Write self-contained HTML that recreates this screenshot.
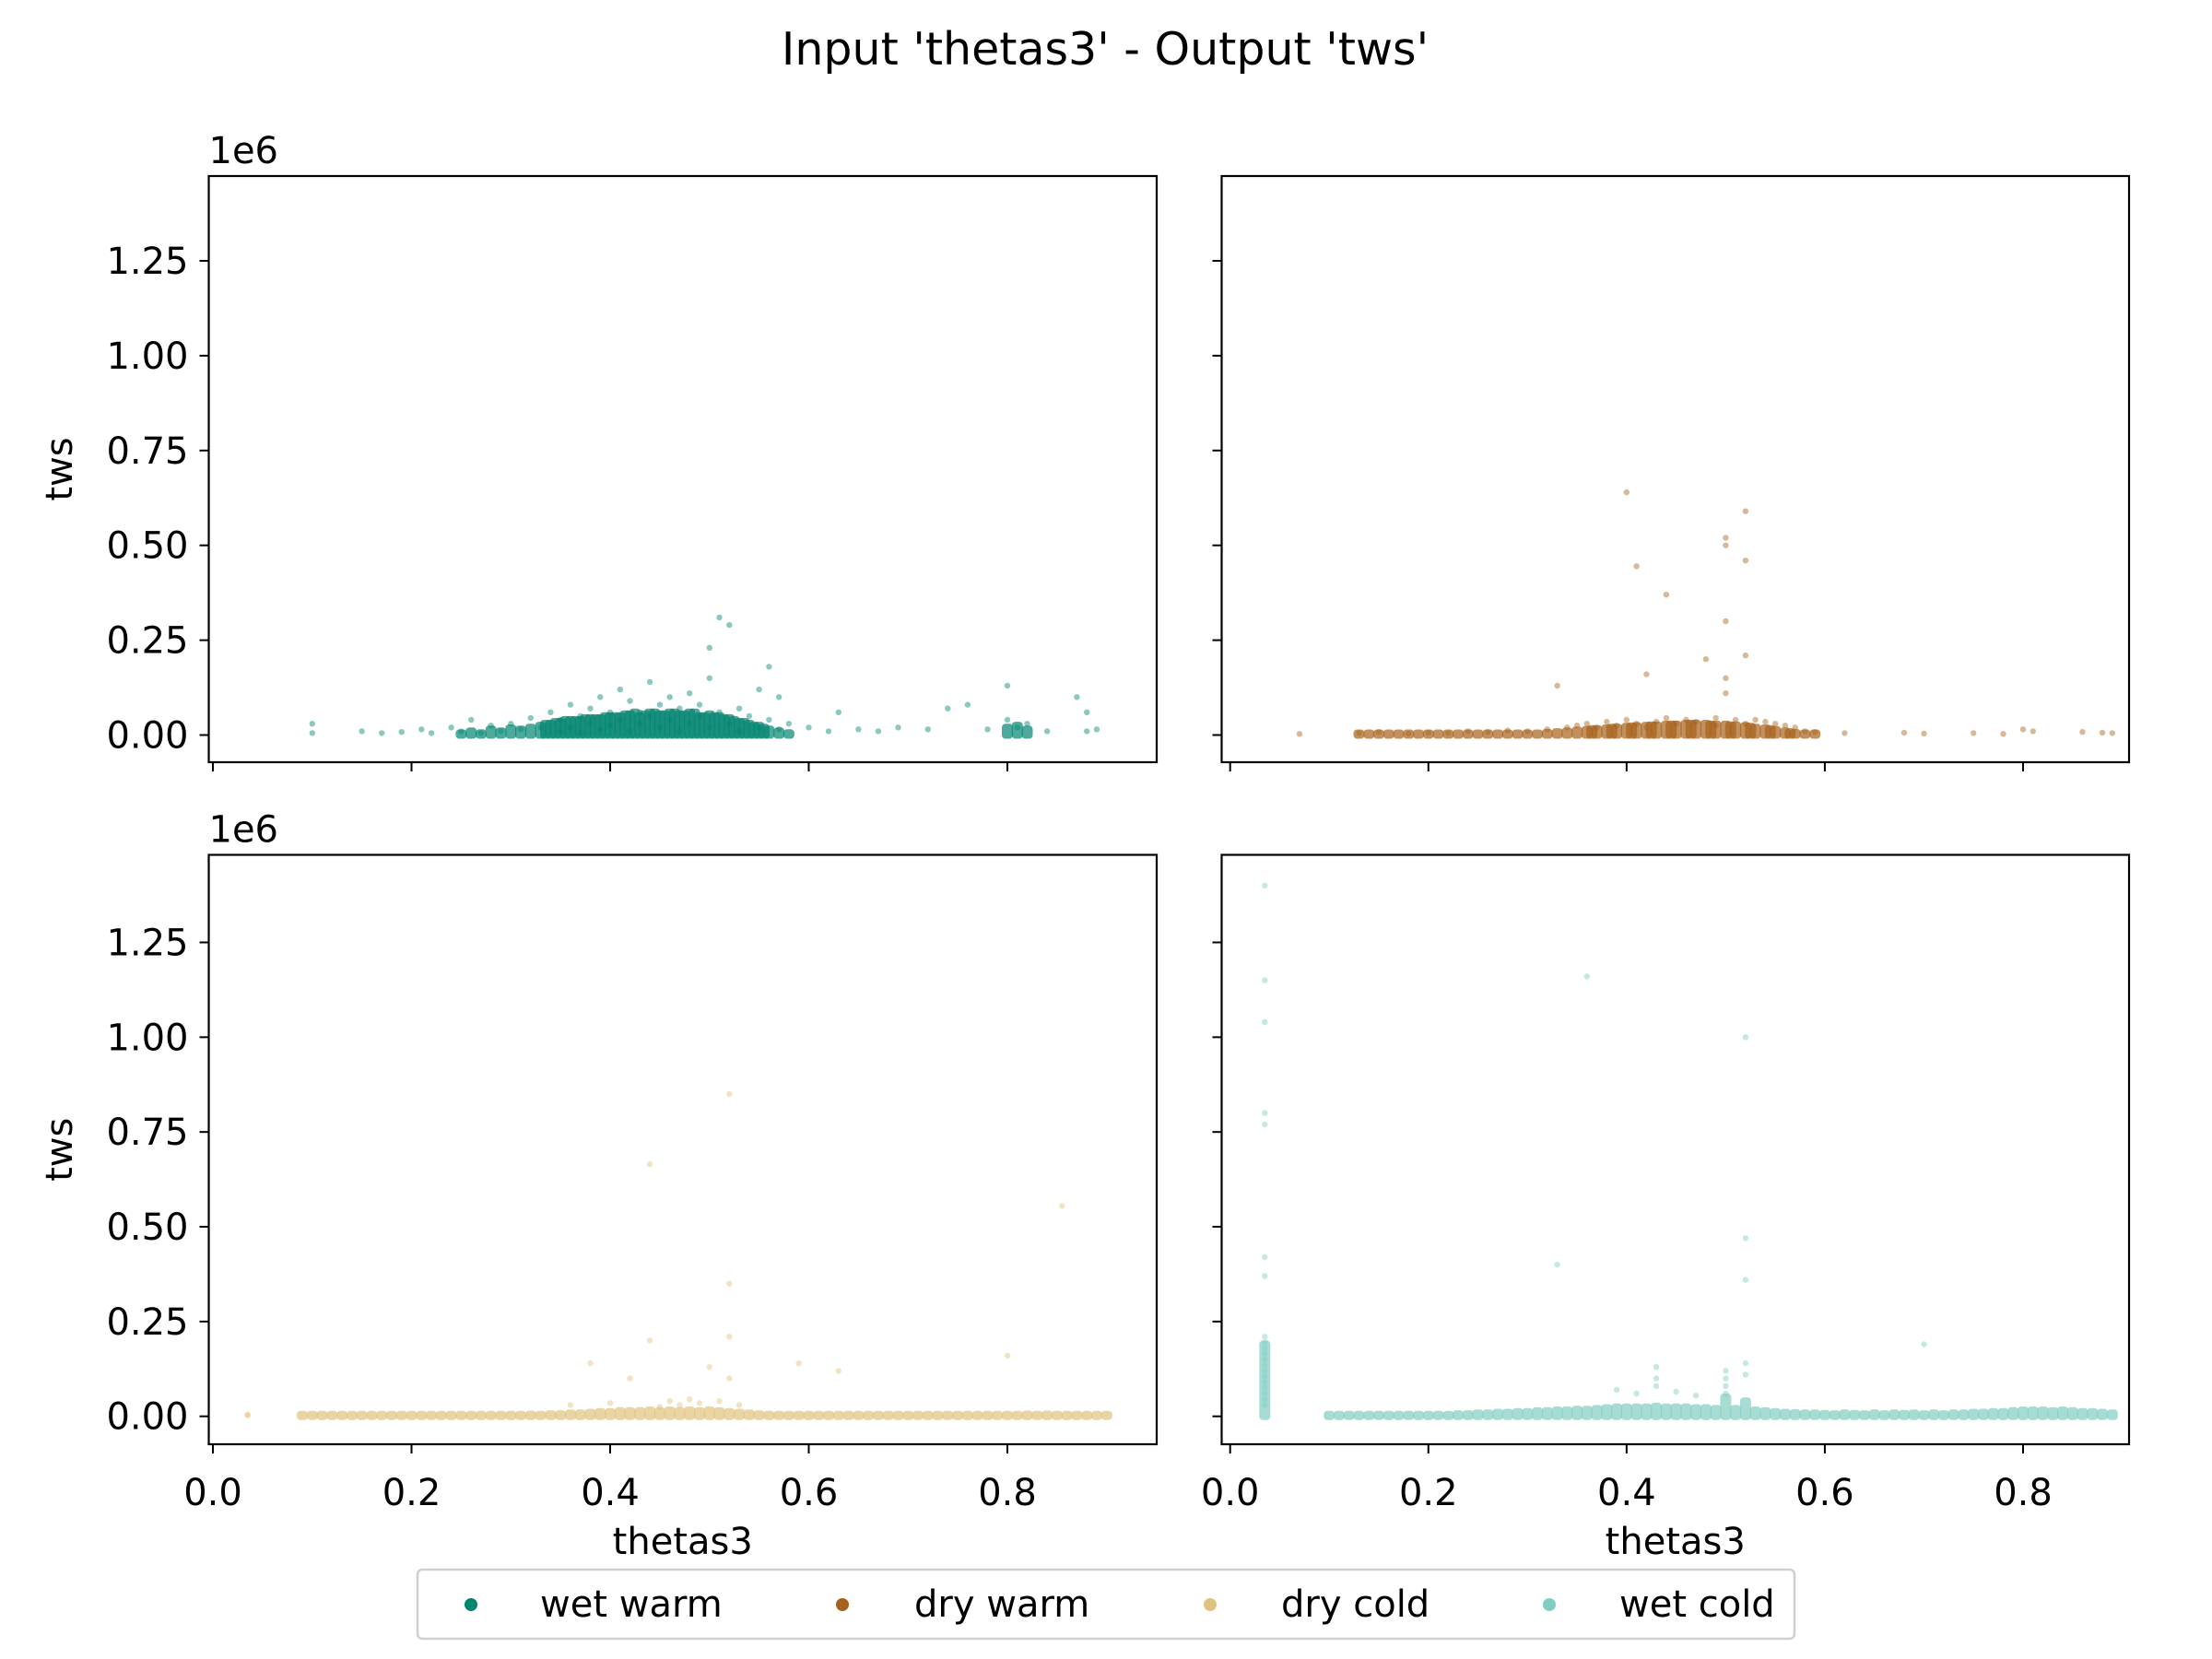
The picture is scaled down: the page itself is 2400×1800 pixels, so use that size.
<!DOCTYPE html>
<html><head><meta charset="utf-8"><style>
html,body{margin:0;padding:0;background:#fff;}
svg{display:block;font-family:"DejaVu Sans","Liberation Sans",sans-serif;}
</style></head><body>
<svg id="fig" width="2400" height="1800" viewBox="0 0 2400 1800" xmlns="http://www.w3.org/2000/svg">
<rect width="2400" height="1800" fill="#fff"/>
<text x="1199" y="70" font-size="49" text-anchor="middle">Input 'thetas3' - Output 'tws'</text>
<g id="panels"></g>
<g>
<rect x="453" y="1703" width="1494" height="75" rx="5" fill="#fff" stroke="#d0d0d0" stroke-width="2.5"/>
<circle cx="511" cy="1741" r="7" fill="#018571"/>
<text x="586" y="1754" font-size="40">wet warm</text>
<circle cx="914" cy="1741" r="7" fill="#a6611a"/>
<text x="992" y="1754" font-size="40">dry warm</text>
<circle cx="1313" cy="1741" r="7" fill="#dfc27d"/>
<text x="1390" y="1754" font-size="40">dry cold</text>
<circle cx="1681" cy="1741" r="7" fill="#80cdc1"/>
<text x="1757" y="1754" font-size="40">wet cold</text>
</g>
</svg>
<script>
// tick values
const xTicks = [0.0, 0.2, 0.4, 0.6, 0.8];
const xTickLabels = ["0.0", "0.2", "0.4", "0.6", "0.8"];
const yTicks = [0, 0.25, 0.5, 0.75, 1.0, 1.25];
const yTickLabels = ["0.00", "0.25", "0.50", "0.75", "1.00", "1.25"];
// series values (x = thetas3, y = tws in thousands)
const wetWarmX = [0.10,0.10,0.15,0.17,0.19,0.21,0.22,0.24,0.25,0.26,0.27,0.28,0.29,0.30,0.31,0.32,0.33,0.34,0.35,0.35,0.36,0.36,0.37,0.37,0.38,0.38,0.39,0.39,0.40,0.40,0.41,0.41,0.42,0.42,0.43,0.43,0.44,0.44,0.45,0.45,0.46,0.46,0.47,0.47,0.48,0.48,0.49,0.49,0.50,0.50,0.50,0.51,0.51,0.52,0.52,0.53,0.53,0.54,0.55,0.55,0.56,0.56,0.57,0.57,0.58,0.60,0.62,0.63,0.65,0.67,0.69,0.72,0.74,0.76,0.78,0.80,0.80,0.81,0.82,0.84,0.87,0.88,0.88,0.89];
const wetWarmY = [5,30,10,5,8,15,5,20,10,40,5,25,10,30,15,45,20,60,10,40,80,20,50,5,70,30,100,15,60,25,120,40,90,10,60,30,140,50,80,20,100,40,70,10,110,30,80,50,150,230,20,310,60,290,30,70,10,50,120,20,180,40,100,15,30,20,10,60,15,10,20,15,70,80,15,130,40,20,30,10,100,60,10,15];
const wetWarmBandX = [0.25,0.26,0.27,0.28,0.29,0.30,0.31,0.32,0.33,0.34,0.35,0.36,0.37,0.38,0.39,0.40,0.41,0.42,0.43,0.44,0.45,0.46,0.47,0.48,0.49,0.50,0.51,0.52,0.53,0.54,0.55,0.56,0.57,0.58,0.335,0.345,0.355,0.365,0.375,0.385,0.395,0.405,0.415,0.425,0.435,0.445,0.455,0.465,0.475,0.485,0.495,0.505,0.515,0.525,0.535,0.545,0.555,0.80,0.81,0.82];
const wetWarmBandY = [12,20,15,25,20,28,25,30,35,40,45,50,50,55,55,60,60,65,60,70,65,70,65,70,60,65,60,55,45,40,35,25,20,15,40,45,50,50,55,55,60,60,65,70,65,70,65,70,65,70,60,60,55,50,45,35,30,30,35,25];
const dryWarmX = [0.07,0.13,0.15,0.18,0.20,0.22,0.24,0.26,0.28,0.30,0.32,0.33,0.34,0.35,0.36,0.37,0.38,0.39,0.40,0.40,0.41,0.41,0.42,0.42,0.43,0.44,0.44,0.45,0.46,0.47,0.48,0.49,0.49,0.50,0.50,0.50,0.50,0.50,0.51,0.52,0.52,0.52,0.52,0.53,0.54,0.55,0.56,0.57,0.58,0.59,0.62,0.68,0.70,0.75,0.78,0.80,0.81,0.86,0.88,0.89];
const dryWarmY = [3,5,8,4,6,5,10,8,12,10,15,130,20,25,30,20,35,25,640,40,445,30,160,20,35,370,45,30,40,35,200,45,25,520,500,300,150,110,40,590,460,210,30,40,35,30,25,20,10,8,5,6,4,5,3,15,10,8,6,5];
const dryWarmBandX = [0.13,0.14,0.15,0.16,0.17,0.18,0.19,0.20,0.21,0.22,0.23,0.24,0.25,0.26,0.27,0.28,0.29,0.30,0.31,0.32,0.33,0.34,0.35,0.36,0.37,0.38,0.39,0.40,0.41,0.42,0.43,0.44,0.45,0.46,0.47,0.48,0.49,0.50,0.51,0.52,0.53,0.54,0.55,0.56,0.57,0.58,0.59,0.365,0.385,0.405,0.425,0.445,0.465,0.485,0.505,0.525,0.545,0.565];
const dryWarmBandY = [5,5,6,5,6,8,6,8,8,10,8,10,10,12,10,12,12,14,14,16,18,20,22,24,26,28,30,32,34,35,36,38,38,40,40,40,38,38,36,34,30,28,24,20,16,12,8,26,30,33,36,38,40,38,36,32,26,18];
const dryColdX = [0.035,0.035,0.38,0.42,0.44,0.44,0.50,0.52,0.52,0.52,0.52,0.59,0.63,0.80,0.855,0.36,0.40,0.46,0.48,0.45,0.47,0.49,0.51,0.53];
const dryColdY = [2,5,140,100,665,200,130,850,350,210,100,140,120,160,555,30,35,40,45,25,30,35,40,30];
const dryColdBandX = [0.09,0.10,0.11,0.12,0.13,0.14,0.15,0.16,0.17,0.18,0.19,0.20,0.21,0.22,0.23,0.24,0.25,0.26,0.27,0.28,0.29,0.30,0.31,0.32,0.33,0.34,0.35,0.36,0.37,0.38,0.39,0.40,0.41,0.42,0.43,0.44,0.45,0.46,0.47,0.48,0.49,0.50,0.51,0.52,0.53,0.54,0.55,0.56,0.57,0.58,0.59,0.60,0.61,0.62,0.63,0.64,0.65,0.66,0.67,0.68,0.69,0.70,0.71,0.72,0.73,0.74,0.75,0.76,0.77,0.78,0.79,0.80,0.81,0.82,0.83,0.84,0.85,0.86,0.87,0.88,0.89,0.90];
const dryColdBandY = [5,6,5,8,6,9,8,9,8,10,9,12,10,12,10,13,12,13,12,14,13,14,14,15,14,16,16,18,18,20,22,22,24,24,24,26,24,26,24,26,24,26,24,22,20,18,16,14,14,13,14,13,12,13,12,12,13,12,12,13,12,12,13,12,13,12,13,14,13,14,13,14,14,15,14,15,14,14,13,13,12,8];
const wetColdX = [0.035,0.035,0.035,0.035,0.035,0.035,0.035,0.035,0.035,0.035,0.035,0.035,0.035,0.035,0.035,0.035,0.035,0.035,0.035,0.035,0.33,0.36,0.43,0.43,0.43,0.50,0.50,0.50,0.50,0.52,0.52,0.52,0.52,0.52,0.70,0.39,0.41,0.45,0.47];
const wetColdY = [1400,1150,1040,800,770,420,370,210,195,180,165,150,135,120,105,90,75,60,45,30,400,1160,130,100,80,120,100,80,60,1000,470,360,140,110,190,70,60,65,55];
const wetColdBandX = [0.035,0.10,0.11,0.12,0.13,0.14,0.15,0.16,0.17,0.18,0.19,0.20,0.21,0.22,0.23,0.24,0.25,0.26,0.27,0.28,0.29,0.30,0.31,0.32,0.33,0.34,0.35,0.36,0.37,0.38,0.39,0.40,0.41,0.42,0.43,0.44,0.45,0.46,0.47,0.48,0.49,0.50,0.51,0.52,0.53,0.54,0.55,0.56,0.57,0.58,0.59,0.60,0.61,0.62,0.63,0.64,0.65,0.66,0.67,0.68,0.69,0.70,0.71,0.72,0.73,0.74,0.75,0.76,0.77,0.78,0.79,0.80,0.81,0.82,0.83,0.84,0.85,0.86,0.87,0.88,0.89];
const wetColdBandY = [200,5,6,5,8,6,9,8,9,8,10,12,14,14,16,16,18,18,20,20,22,22,24,24,26,26,28,28,30,32,34,34,34,34,36,34,34,34,32,32,30,60,30,50,26,24,22,20,19,18,18,17,16,18,17,16,18,16,18,17,18,16,18,16,18,18,20,20,22,22,24,26,26,26,24,26,24,22,22,20,18];

const NS = "http://www.w3.org/2000/svg";
const panelsG = document.getElementById("panels");
const panels = [
  {name:"wet-warm", x0:226.5, x1:1255, y0:191, y1:827, color:"#018571", sets:[[wetWarmX,wetWarmY],[wetWarmBandX,wetWarmBandY]], ylab:true, xlab:false},
  {name:"dry-warm", x0:1325.5, x1:2310, y0:191, y1:827, color:"#a6611a", sets:[[dryWarmX,dryWarmY],[dryWarmBandX,dryWarmBandY]], ylab:false, xlab:false},
  {name:"dry-cold", x0:226.5, x1:1255, y0:927.5, y1:1567, color:"#dfc27d", sets:[[dryColdX,dryColdY],[dryColdBandX,dryColdBandY]], ylab:true, xlab:true},
  {name:"wet-cold", x0:1325.5, x1:2310, y0:927.5, y1:1567, color:"#80cdc1", sets:[[wetColdX,wetColdY],[wetColdBandX,wetColdBandY]], ylab:false, xlab:true}
];
function mk(tag, attrs, parent){const e=document.createElementNS(NS,tag);for(const k in attrs)e.setAttribute(k,attrs[k]);parent.appendChild(e);return e;}
panels.forEach(p=>{
  const left = p.x0 < 1000;
  const zeroX = left ? 231 : 1334.7;
  const perX = left ? (1093-231)/0.8 : (2195-1334.7)/0.8;
  const top = p.y0 < 500;
  const zeroY = top ? 797.5 : 1536.7;
  const perY = top ? (797.5-283)/1.25 : (1536.7-1022.5)/1.25;
  const sx = v => zeroX + v*perX;
  const sy = v => zeroY - v*perY;
  const g = mk("g",{},panelsG);
  
  
  const pts = mk("g",{},g);
  
  
  p.sets.forEach((s,si)=>{
    const xs=s[0], ys=s[1];
    for(let i=0;i<xs.length;i++){
      const y0 = sy(ys[i]/1000), yb = sy(0);
      if(si===1){
        const b = mk("rect",{x:(sx(xs[i])-6).toFixed(1), y:Math.min(y0,yb-6).toFixed(1), width:12, height:Math.max(yb-y0+4,10).toFixed(1), rx:4, fill:p.color, "fill-opacity":0.7},pts);
        
        
      } else {
        const c = mk("circle",{cx:sx(xs[i]).toFixed(1), cy:y0.toFixed(1), r:3.2, fill:p.color, "fill-opacity":0.45},pts);
        
        
      }
    }
  });
  const fr = mk("rect",{x:p.x0,y:p.y0,width:p.x1-p.x0,height:p.y1-p.y0,fill:"none",stroke:"#000","stroke-width":2.2},g);
  
  
  xTicks.forEach((t,i)=>{
    const x = sx(t);
    const l = mk("line",{x1:x,x2:x,y1:p.y1,y2:p.y1+10,stroke:"#000","stroke-width":2},g);
    
    
    if(p.xlab){
      const tx = mk("text",{x:x,y:p.y1+66,"font-size":40,"text-anchor":"middle"},g);
      tx.textContent = xTickLabels[i];
      
      
    }
  });
  yTicks.forEach((t,i)=>{
    const y = sy(t);
    const l = mk("line",{x1:p.x0-10,x2:p.x0,y1:y,y2:y,stroke:"#000","stroke-width":2},g);
    
    
    if(p.ylab){
      const tx = mk("text",{x:p.x0-22,y:y+14,"font-size":40,"text-anchor":"end"},g);
      tx.textContent = yTickLabels[i];
      
      
    }
  });
  if(p.ylab){
    const off = mk("text",{x:p.x0,y:p.y0-14,"font-size":40},g);
    off.textContent = "1e6";
    
    
    const yl = mk("text",{x:0,y:0,"font-size":40,"text-anchor":"middle",transform:`translate(78 ${(p.y0+p.y1)/2}) rotate(-90)`},g);
    yl.textContent = "tws";
    
    
  }
  if(p.xlab){
    const xl = mk("text",{x:(p.x0+p.x1)/2,y:1686,"font-size":40,"text-anchor":"middle"},g);
    xl.textContent = "thetas3";
    
    
  }
});
</script>
</body></html>
